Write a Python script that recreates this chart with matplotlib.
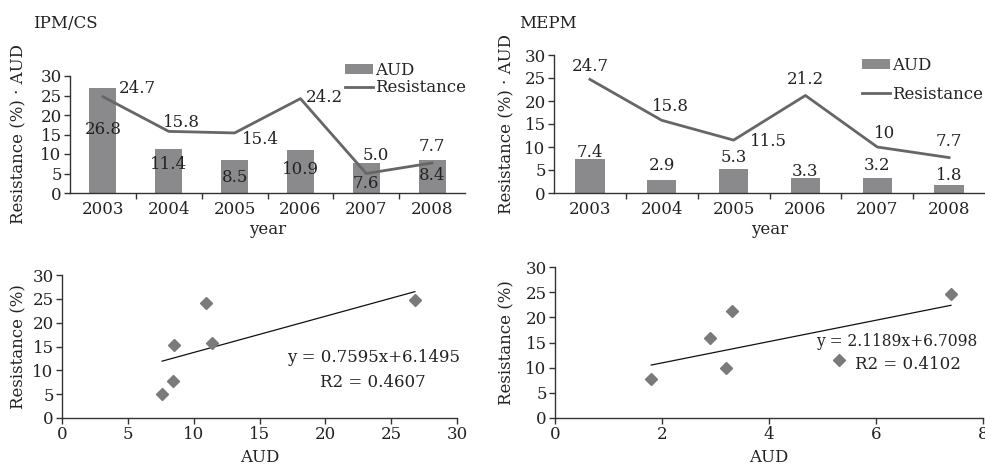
import matplotlib
matplotlib.use("Agg")
import matplotlib.pyplot as plt
import numpy as np

plt.rcParams['font.family'] = ['DejaVu Serif']
plt.rcParams['font.size'] = 12

# ---------------- data ----------------
years = ['2003', '2004', '2005', '2006', '2007', '2008']

ipm_aud = [26.8, 11.4, 8.5, 10.9, 7.6, 8.4]
ipm_res = [24.7, 15.8, 15.4, 24.2, 5.0, 7.7]

mepm_aud = [7.4, 2.9, 5.3, 3.3, 3.2, 1.8]
mepm_res = [24.7, 15.8, 11.5, 21.2, 10, 7.7]

ipm_fit = (0.7595, 6.1495, 0.4607)
mepm_fit = (2.1189, 6.7098, 0.4102)

# ---------------- label layout (positions only) ----------------
ipm_bar_lab_y = [16.4, 7.2, 4.1, 5.9, 2.5, 4.6]
ipm_line_lab_dx = [0.53, 0.2, 0.4, 0.37, 0.14, 0.0]
ipm_line_lab_y = [26.7, 18.2, 13.8, 24.6, 9.7, 11.8]

mepm_bar_lab_y = [8.9, 5.9, 7.8, 4.6, 5.9, 3.9]
mepm_line_lab_dx = [0.0, 0.12, 0.49, 0.0, 0.1, 0.0]
mepm_line_lab_y = [27.4, 18.9, 11.1, 24.6, 13.0, 11.1]

BAR_C = '#8a8a8c'
LINE_C = '#666666'
AX_C = '#333333'
TXT_C = '#222222'

W, H = 985, 467
fig = plt.figure(figsize=(W / 100, H / 100), dpi=100)


def px_axes(left, top, right, bottom):
    ax = fig.add_axes([left / W, 1 - bottom / H, (right - left) / W, (bottom - top) / H])
    ax._px = (left, top, right, bottom)
    return ax


def place_labels(ax, ylab_x, xlab_y):
    left, top, right, bottom = ax._px
    ax.yaxis.set_label_coords((ylab_x - left) / (right - left), 0.5)
    ax.xaxis.set_label_coords(0.5, -(xlab_y - bottom) / (bottom - top))
    ax.xaxis.label.set_va('center')
    ax.yaxis.label.set_va('center')


def style(ax):
    for s in ['top', 'right']:
        ax.spines[s].set_visible(False)
    for s in ['left', 'bottom']:
        ax.spines[s].set_color(AX_C)
        ax.spines[s].set_linewidth(1.0)
    ax.tick_params(colors=AX_C, labelcolor=TXT_C, length=4, width=1.0, pad=2)


def bar_line(ax, aud, res, bar_lab_y, line_dx, line_y, line_fmt, leg_anchor, leg_spacing):
    x = np.arange(len(years))
    hb = ax.bar(x, aud, width=0.41, color=BAR_C, label='AUD', zorder=2)
    hl, = ax.plot(x, res, color=LINE_C, lw=2, label='Resistance', zorder=3)
    for i in range(len(x)):
        ax.text(x[i], bar_lab_y[i], '%.1f' % aud[i], ha='center', va='center', color=TXT_C, zorder=4)
        ax.text(x[i] + line_dx[i], line_y[i], line_fmt(res[i]), ha='center', va='center', color=TXT_C, zorder=4)
    ax.set_xlim(-0.5, len(x) - 0.5)
    ax.set_ylim(0, 30)
    ax.set_yticks(range(0, 31, 5))
    ax.set_xticks(x)
    ax.set_xticklabels(years)
    ax.set_xticks(np.arange(0.5, len(x) - 0.5, 1), minor=True)
    style(ax)
    ax.tick_params(axis='x', which='major', length=0, pad=6)
    ax.tick_params(axis='x', which='minor', length=4, width=1.0, color=AX_C)
    ax.set_xlabel('year', color=TXT_C)
    ax.set_ylabel('Resistance (%) · AUD', color=TXT_C)
    leg = ax.legend([hb, hl], ['AUD', 'Resistance'], loc='upper left', bbox_to_anchor=leg_anchor,
                    bbox_transform=fig.transFigure,
                    frameon=False, borderpad=0, borderaxespad=0, handlelength=1.7,
                    handletextpad=0.1, labelspacing=leg_spacing, handleheight=0.5)
    for t in leg.get_texts():
        t.set_color(TXT_C)


def scatter_fit(ax, aud, res, fit, xmax, xstep, eq_pos, r2_pos, ha, eq_size):
    slope, inter, r2 = fit
    ax.plot(aud, res, ls='none', marker='D', ms=6, color='#7a7a7a', zorder=3)
    xs = np.array([min(aud), max(aud)])
    ax.plot(xs, slope * xs + inter, color='#111111', lw=0.9, zorder=2)
    ax.text(eq_pos[0], eq_pos[1], 'y = %.4fx+%.4f' % (slope, inter), ha=ha, va='center',
            color=TXT_C, fontsize=eq_size)
    ax.text(r2_pos[0], r2_pos[1], 'R2 = %.4f' % r2, ha=ha, va='center', color=TXT_C)
    ax.set_xlim(0, xmax)
    ax.set_ylim(0, 30)
    ax.set_xticks(np.arange(0, xmax + 0.01, xstep))
    ax.set_yticks(range(0, 31, 5))
    style(ax)
    ax.set_xlabel('AUD', color=TXT_C)
    ax.set_ylabel('Resistance (%)', color=TXT_C)


# ---- top-left: IPM/CS ----
ax1 = px_axes(70, 76, 465, 193)
bar_line(ax1, ipm_aud, ipm_res, ipm_bar_lab_y, ipm_line_lab_dx, ipm_line_lab_y,
         lambda v: '%.1f' % v, (345 / W, 1 - 62 / H), 0.0)
place_labels(ax1, 19, 230)
fig.text(33 / W, 1 - 23 / H, 'IPM/CS', ha='left', va='center', color=TXT_C)

# ---- top-right: MEPM ----
ax2 = px_axes(554, 55, 985, 193)
bar_line(ax2, mepm_aud, mepm_res, mepm_bar_lab_y, mepm_line_lab_dx, mepm_line_lab_y,
         lambda v: '%g' % v, (862 / W, 1 - 57 / H), 0.7)
place_labels(ax2, 507, 230)
fig.text(519 / W, 1 - 23 / H, 'MEPM', ha='left', va='center', color=TXT_C)

# ---- bottom-left scatter ----
ax3 = px_axes(62, 275, 457, 418)
scatter_fit(ax3, ipm_aud, ipm_res, ipm_fit, 30, 5, (23.7, 12.6), (23.6, 7.55), 'center', 12)
place_labels(ax3, 19, 457)

# ---- bottom-right scatter ----
ax4 = px_axes(555, 267, 983, 418)
scatter_fit(ax4, mepm_aud, mepm_res, mepm_fit, 8, 2, (4.88, 15.1), (5.6, 10.7), 'left', 11.2)
place_labels(ax4, 507, 458)

fig.savefig('out.png', dpi=100)
